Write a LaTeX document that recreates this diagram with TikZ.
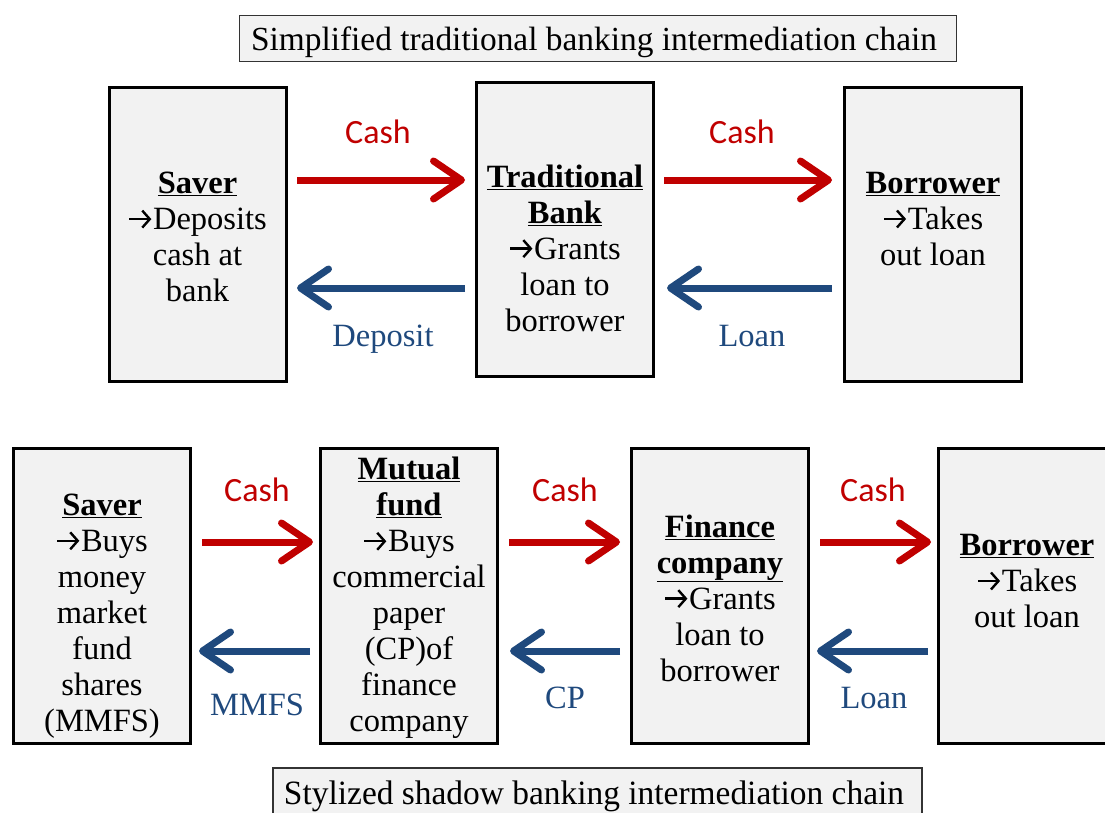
\documentclass[tikz,border=0pt]{standalone}
\usepackage{fontspec}
\setmainfont{Liberation Serif}
\newfontfamily\lblsans{Carlito}
\usetikzlibrary{arrows.meta}
\definecolor{cashred}{HTML}{C00000}
\definecolor{flowblue}{HTML}{1F497D}
\definecolor{boxgray}{HTML}{F2F2F2}
\newcommand{\ar}{\tikz[baseline=0pt,x=1pt,y=1pt]\draw[line width=2.4pt,line cap=butt,-{Straight Barb[length=7.5pt,width=17pt]}] (0,10.5)--(22,10.5);\hspace{0.5pt}}
\begin{document}
\begin{tikzpicture}[x=1pt,y=-1pt,
  box/.style={draw=black, line width=3pt, fill=boxgray, minimum width=177pt, minimum height=295pt, inner sep=0pt},
  txt/.style={align=center, inner sep=0pt, font=\fontsize{32.5}{36}\selectfont},
  titlebox/.style={draw=black!80, line width=1.3pt, fill=boxgray, inner sep=0pt},
  lbl/.style={inner sep=0pt, anchor=base, font=\fontsize{32}{36}\selectfont},
  cashlbl/.style={inner sep=0pt, anchor=base, text=cashred, font=\lblsans\fontsize{34}{36}\selectfont},
  flowlbl/.style={inner sep=0pt, anchor=base, text=flowblue, font=\fontsize{32.5}{36}\selectfont},
  cash/.style={draw=cashred, line width=7pt, -{Straight Barb[length=28pt,width=38pt,round]}},
  flow/.style={draw=flowblue, line width=7pt, -{Straight Barb[length=28pt,width=38pt,round]}}
]
\useasboundingbox (0,0) rectangle (1105,812);

% ---- top title
\node[titlebox, minimum width=717pt, minimum height=46pt] (t1box) at (598,38.5) {};
\node[lbl] (t1) at (594,50) {\resizebox*{686pt}{31pt}{Simplified traditional banking intermediation chain}};

% ---- top boxes
\node[box, minimum height=294pt] (saverA) at (197.5,234.5) {};
\node[txt] (saverAt) at (197.5,237) {\textbf{\underline{Saver}}\\\ar Deposits\\cash at\\bank};
\node[box, minimum height=294pt] (bank) at (565,229.5) {};
\node[txt] (bankt) at (565,248) {\textbf{\underline{Traditional}}\\\textbf{\underline{Bank}}\\\ar Grants\\loan to\\borrower};
\node[box, minimum height=294pt] (borrA) at (933,234.5) {};
\node[txt] (borrAt) at (933,219) {\textbf{\underline{Borrower}}\\\ar Takes\\out loan};

% top arrows
\coordinate (a1s) at (297,180); \coordinate (a1e) at (465,180);
\coordinate (b1s) at (465,288); \coordinate (b1e) at (297,288);
\coordinate (a2s) at (664,180); \coordinate (a2e) at (832,180);
\coordinate (b2s) at (832,288); \coordinate (b2e) at (667,288);
\draw[cash] (a1s) -- (a1e);
\draw[flow] (b1s) -- (b1e);
\draw[cash] (a2s) -- (a2e);
\draw[flow] (b2s) -- (b2e);
\node[cashlbl] (c1) at (378,143) {Cash};
\node[flowlbl] (d1) at (383,346) {Deposit};
\node[cashlbl] (c2) at (742,143) {Cash};
\node[flowlbl] (l1) at (752,346) {Loan};

% ---- bottom boxes
\node[box] (saverB) at (102,596) {};
\node[txt] (saverBt) at (102,616) {\textbf{\underline{Saver}}\\\ar Buys\\money\\market\\fund\\shares\\(MMFS)};
\node[box] (fund) at (409,596) {};
\node[txt] (fundt) at (409,598) {\textbf{\underline{Mutual}}\\\textbf{\underline{fund}}\\\ar Buys\\commercial\\paper\\(CP)of\\finance\\company};
\node[box] (finco) at (720,596) {};
\node[txt] (fincot) at (720,598) {\textbf{\underline{Finance}}\\\textbf{\underline{company}}\\\ar Grants\\loan to\\borrower};
\node[box] (borrB) at (1027,596) {};
\node[txt] (borrBt) at (1027,581) {\textbf{\underline{Borrower}}\\\ar Takes\\out loan};

% bottom arrows
\coordinate (a3s) at (202,542); \coordinate (a3e) at (313,542);
\coordinate (b3s) at (310,651); \coordinate (b3e) at (199,651);
\coordinate (a4s) at (509,542); \coordinate (a4e) at (620,542);
\coordinate (b4s) at (620,651); \coordinate (b4e) at (510,651);
\coordinate (a5s) at (820,542); \coordinate (a5e) at (931,542);
\coordinate (b5s) at (928,651); \coordinate (b5e) at (817,651);
\draw[cash] (a3s) -- (a3e);
\draw[flow] (b3s) -- (b3e);
\draw[cash] (a4s) -- (a4e);
\draw[flow] (b4s) -- (b4e);
\draw[cash] (a5s) -- (a5e);
\draw[flow] (b5s) -- (b5e);
\node[cashlbl] (c3) at (257,501) {Cash};
\node[flowlbl] (m3) at (257,715) {MMFS};
\node[cashlbl] (c4) at (565,501) {Cash};
\node[flowlbl] (cp4) at (565,708) {CP};
\node[cashlbl] (c5) at (873,501) {Cash};
\node[flowlbl] (l5) at (874,708) {Loan};

% ---- bottom title
\node[titlebox, minimum width=649pt, minimum height=60pt] (t2box) at (597.5,798) {};
\node[lbl] (t2) at (594,804) {\resizebox*{620pt}{31pt}{Stylized shadow banking intermediation chain}};
\end{tikzpicture}
\end{document}
